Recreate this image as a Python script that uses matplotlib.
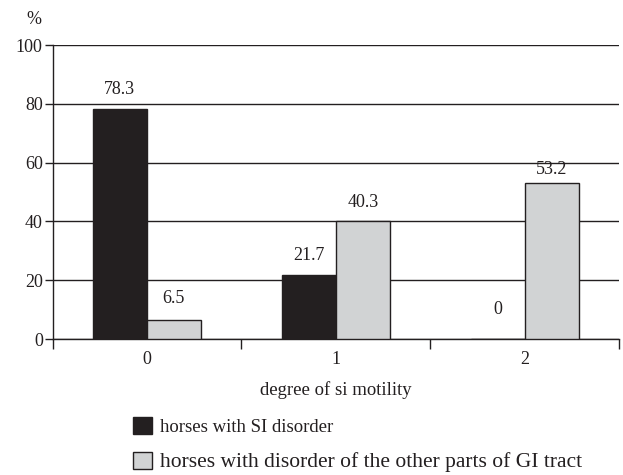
import matplotlib
matplotlib.use("Agg")
import matplotlib.pyplot as plt
from matplotlib.patches import Patch

plt.rcParams['font.family'] = ['Liberation Serif', 'DejaVu Serif']

categories = ["0", "1", "2"]
si_disorder = [78.3, 21.7, 0.0]
other_gi = [6.5, 40.3, 53.2]
series_names = ["horses with SI disorder",
                "horses with disorder of the other parts of GI tract"]
yticks = [0, 20, 40, 60, 80, 100]
xlabel = "degree of si motility"
ylabel = "%"

# label offsets above bar tops (points) — styling only
off_si = [8, 8, 15]
off_other = [9, 6.5, 3.5]

dark = "#231f20"
grey = "#d1d3d4"

fig = plt.figure(figsize=(6.23, 4.75), dpi=100)
ax = fig.add_axes([52.5/623, 1-339/475, (619-52.5)/623, (339-45)/475])

w = 0.286
x = list(range(len(categories)))
b1 = ax.bar([i - w/2 for i in x], si_disorder, width=w, color=dark,
            edgecolor=dark, linewidth=1.0, zorder=3)
b2 = ax.bar([i + w/2 for i in x], other_gi, width=w, color=grey,
            edgecolor=dark, linewidth=1.0, zorder=3)

for bars, vals, offs in ((b1, si_disorder, off_si), (b2, other_gi, off_other)):
    for r, v, o in zip(bars, vals, offs):
        ax.annotate(f"{v:g}", (r.get_x() + r.get_width()/2, v),
                    xytext=(0, o), textcoords="offset points",
                    ha="center", va="bottom", fontsize=13, color=dark)

ax.set_xlim(-0.5, 2.5)
ax.set_ylim(0, 100)
ax.set_yticks(yticks)
ax.set_xticks(x)
ax.set_xticklabels(categories)
ax.set_xticks([-0.5, 0.5, 1.5, 2.5], minor=True)
ax.tick_params(axis='x', which='major', length=0, pad=9, labelsize=13, colors=dark)
ax.tick_params(axis='x', which='minor', length=7, width=1.0, direction='out', color=dark)
ax.tick_params(axis='y', length=6, width=1.0, direction='out', pad=1, labelsize=13, colors=dark)

ax.yaxis.grid(True, color=dark, linewidth=1.0)
ax.set_axisbelow(True)
for s in ("top", "right"):
    ax.spines[s].set_visible(False)
for s in ("left", "bottom"):
    ax.spines[s].set_color(dark)
    ax.spines[s].set_linewidth(1.0)

ax.set_xlabel(xlabel, fontsize=13.5, labelpad=9, color=dark)
fig.text(34/623, 1-19/475, ylabel, fontsize=13, ha="center", va="center", color=dark)

handles = [Patch(facecolor=dark, edgecolor=dark, linewidth=1.0),
           Patch(facecolor=grey, edgecolor=dark, linewidth=1.0)]
leg = fig.legend(handles, series_names, loc="upper left",
                 bbox_to_anchor=(133/623, 1-417/475), frameon=False,
                 fontsize=13.5, handlelength=1.0, handleheight=1.0,
                 handletextpad=0.45, labelspacing=0.85, borderpad=0,
                 borderaxespad=0, labelcolor=dark)
leg.get_texts()[1].set_fontsize(15.5)

fig.savefig("out.png", dpi=100)
